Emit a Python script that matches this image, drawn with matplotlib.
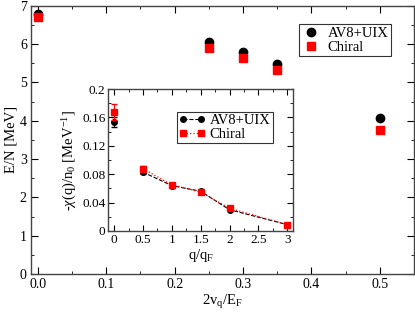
import matplotlib
matplotlib.use("Agg")
import matplotlib.pyplot as plt
from matplotlib.ticker import MultipleLocator
from matplotlib.lines import Line2D

plt.rcParams['font.family'] = ['Liberation Serif', 'DejaVu Serif']
plt.rcParams['mathtext.fontset'] = 'custom'
plt.rcParams['mathtext.rm'] = 'Liberation Serif'
plt.rcParams['mathtext.it'] = 'Liberation Serif:italic'

# Main panel data
main_x = [0.0, 0.25, 0.30, 0.35, 0.50]
main_av8 = [6.78, 6.05, 5.78, 5.49, 4.06]
main_chiral = [6.70, 5.90, 5.63, 5.33, 3.76]

# Inset data
ins_x = [0.0, 0.5, 1.0, 1.5, 2.0, 3.0]
ins_av8 = [0.154, 0.083, 0.064, 0.056, 0.030, 0.009]
ins_av8_err = [0.007, 0.002, 0.001, 0.001, 0.001, 0.001]
ins_chiral = [0.168, 0.088, 0.065, 0.055, 0.032, 0.009]
ins_chiral_err = [0.011, 0.003, 0.001, 0.001, 0.001, 0.001]

fig = plt.figure(figsize=(4.15, 3.16), dpi=100)
ax = fig.add_axes([0.0747, 0.1329, 0.9229, 0.849])

ax.plot(main_x, main_av8, 'o', color='black', markersize=6, label='AV8+UIX', zorder=3)
ax.plot(main_x, main_chiral, 's', color='#ff0000', markersize=5.5, label='Chiral', zorder=4)
ax.set_xlim(-0.01, 0.55)
ax.set_ylim(0, 7)
ax.xaxis.set_major_locator(MultipleLocator(0.1))
ax.xaxis.set_minor_locator(MultipleLocator(0.05))
ax.yaxis.set_major_locator(MultipleLocator(1))
ax.yaxis.set_minor_locator(MultipleLocator(0.5))
ax.tick_params(which='both', direction='in', top=True, right=True, labelsize=10, pad=3)
ax.tick_params(which='major', length=5)
ax.tick_params(which='minor', length=2.5)
ax.set_xlabel(r'$2\mathrm{v}_\mathrm{q}/\mathrm{E}_\mathrm{F}$', fontsize=10.5, labelpad=1)
ax.set_ylabel('E/N [MeV]', fontsize=10.5, labelpad=2)
for s in ax.spines.values():
    s.set_color('#444444')
    s.set_linewidth(1.0)
leg1 = ax.legend(loc='upper left', bbox_to_anchor=(0.7, 0.93), fontsize=10.5, frameon=True,
                 fancybox=False, edgecolor='black', handletextpad=0.4, borderpad=0.15,
                 labelspacing=0.05, handlelength=1.4, borderaxespad=0)
leg1.get_frame().set_linewidth(0.8)

# Inset
ins = fig.add_axes([0.261, 0.269, 0.445, 0.449])
ins.errorbar(ins_x[1:], ins_av8[1:], yerr=ins_av8_err[1:], fmt='--o', color='black',
             markersize=4, linewidth=0.8, elinewidth=0.8, capsize=2, zorder=3)
ins.errorbar(ins_x[1:], ins_chiral[1:], yerr=ins_chiral_err[1:], fmt=':s', color='#ff0000',
             markersize=4, linewidth=0.9, elinewidth=0.8, capsize=2, zorder=4)
ins.errorbar(ins_x[:1], ins_av8[:1], yerr=ins_av8_err[:1], fmt='o', color='black',
             markersize=4, elinewidth=0.8, capsize=2, zorder=3)
ins.errorbar(ins_x[:1], ins_chiral[:1], yerr=ins_chiral_err[:1], fmt='s', color='#ff0000',
             markersize=4, elinewidth=0.8, capsize=2, zorder=4)
ins.set_xlim(-0.1, 3.1)
ins.set_ylim(0, 0.2)
ins.xaxis.set_minor_locator(MultipleLocator(0.25))
ins.yaxis.set_minor_locator(MultipleLocator(0.02))
ins.set_xticks([0, 0.5, 1, 1.5, 2, 2.5, 3])
ins.set_xticklabels(['0', '0.5', '1', '1.5', '2', '2.5', '3'])
ins.set_yticks([0, 0.04, 0.08, 0.12, 0.16, 0.2])
ins.set_yticklabels(['0', '0.04', '0.08', '0.12', '0.16', '0.2'])
ins.tick_params(which='both', direction='in', top=True, right=True, labelsize=9.5, pad=2)
ins.tick_params(which='major', length=4)
ins.tick_params(which='minor', length=2)
ins.set_xlabel(r'$\mathrm{q/q}_\mathrm{F}$', fontsize=10.5, labelpad=1)
ins.set_ylabel(r'-$\chi$(q)/n$_0$ [MeV$^{-1}$]', fontsize=10.5, labelpad=2)
for s in ins.spines.values():
    s.set_color('#444444')
    s.set_linewidth(1.0)
h_av8 = Line2D([], [], linestyle='--', marker='o', color='black', markersize=4, linewidth=0.8)
h_chi = Line2D([], [], linestyle=':', marker='s', color='#ff0000', markersize=4, linewidth=0.9)
leg2 = ins.legend([h_av8, h_chi], ['AV8+UIX', 'Chiral'], loc='upper left',
                  bbox_to_anchor=(0.37, 0.84), fontsize=10.5, frameon=True,
                  fancybox=False, edgecolor='black', handletextpad=0.3, borderpad=0.15,
                  labelspacing=0.05, handlelength=1.8, numpoints=2, borderaxespad=0)
leg2.get_frame().set_linewidth(0.8)

fig.savefig('out.png', dpi=100)
